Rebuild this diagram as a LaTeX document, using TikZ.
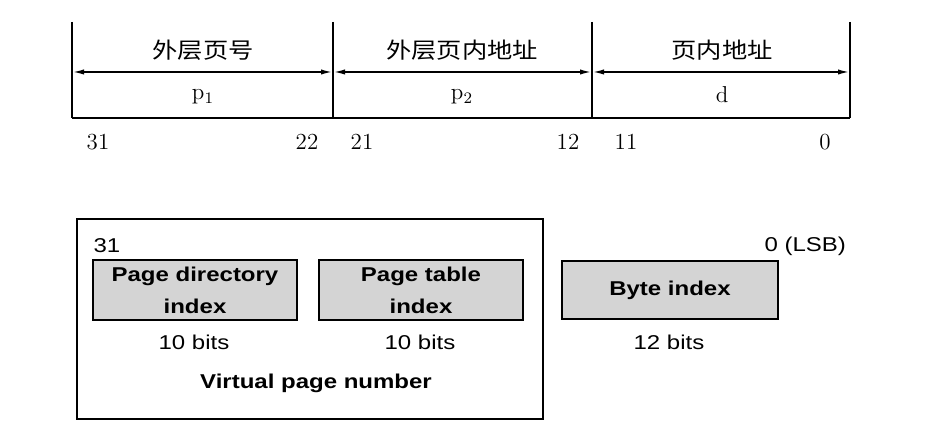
\documentclass[tikz,border=0pt]{standalone}
\usepackage{fontspec}
\usepackage{xcolor}
\newfontfamily\cnfont[FakeStretch=1.15]{Noto Sans CJK SC}
\newfontfamily\hvfont[FakeStretch=1.2]{Liberation Sans}
\usetikzlibrary{arrows.meta}
\definecolor{fieldgray}{HTML}{D4D4D4}

\begin{document}
\begin{tikzpicture}[x=0.5pt,y=-0.5pt,
  cnlabel/.style={font=\cnfont\fontsize{11}{13}\selectfont},
  bitno/.style={font=\fontsize{11.5}{13}\selectfont},
  sans/.style={font=\hvfont\fontsize{10}{16}\selectfont},
  field/.style={draw,line width=0.9pt,fill=fieldgray,align=center,
    minimum height=29pt,font=\hvfont\bfseries\fontsize{10}{16}\selectfont},
  span/.style={line width=0.9pt,{Latex[length=6pt,width=2.6pt]}-{Latex[length=6pt,width=2.6pt]}}]
  \useasboundingbox (0,0) rectangle (947,431);

  % top: two-level address split
  \foreach \i/\x in {0/72,1/333,2/592,3/850} {
    \coordinate (t\i) at (\x,22);
    \coordinate (m\i) at (\x,72);
    \coordinate (b\i) at (\x,118);
    \draw[line width=0.9pt] (t\i) -- (b\i);
  }
  \draw[line width=0.9pt] (b0) -- (b3);
  \draw[span] (m0) -- (m1);
  \draw[span] (m1) -- (m2);
  \draw[span] (m2) -- (m3);

  \node[cnlabel] (outer) at (203,50) {外层页号};
  \node[cnlabel] (inner) at (462,50) {外层页内地址};
  \node[cnlabel] (offset) at (722,50) {页内地址};
  \node[bitno] (p1) at (203,97) {p$_1$};
  \node[bitno] (p2) at (462,97) {p$_2$};
  \node[bitno] (d) at (722,95) {d};

  \node[bitno] (n31) at (98,142) {31};
  \node[bitno] (n22) at (307,142) {22};
  \node[bitno] (n21) at (362,142) {21};
  \node[bitno] (n12) at (568,142) {12};
  \node[bitno] (n11) at (626,142) {11};
  \node[bitno] (n0) at (825,142) {0};

  % bottom: x86 virtual address
  \node[draw,line width=1.1pt,minimum width=233pt,minimum height=100pt] (vpnbox) at (310,319) {};
  \node[sans] (hi) at (107,246) {31};
  \node[sans,anchor=east] (lo) at (853,246) {0 (LSB)};
  \node[field,minimum width=102pt] (pdi) at (195,290) {Page directory\\index};
  \node[field,minimum width=102pt] (pti) at (421,290) {Page table\\index};
  \node[field,minimum width=108pt] (bi) at (670,290) {Byte index};
  \node[sans] (pdibits) at (194,342) {10 bits};
  \node[sans] (ptibits) at (420,342) {10 bits};
  \node[sans] (bibits) at (669,342) {12 bits};
  \node[sans,font=\hvfont\bfseries\fontsize{10}{16}\selectfont] (vpn) at (316,383) {Virtual page number};
\end{tikzpicture}
\end{document}
